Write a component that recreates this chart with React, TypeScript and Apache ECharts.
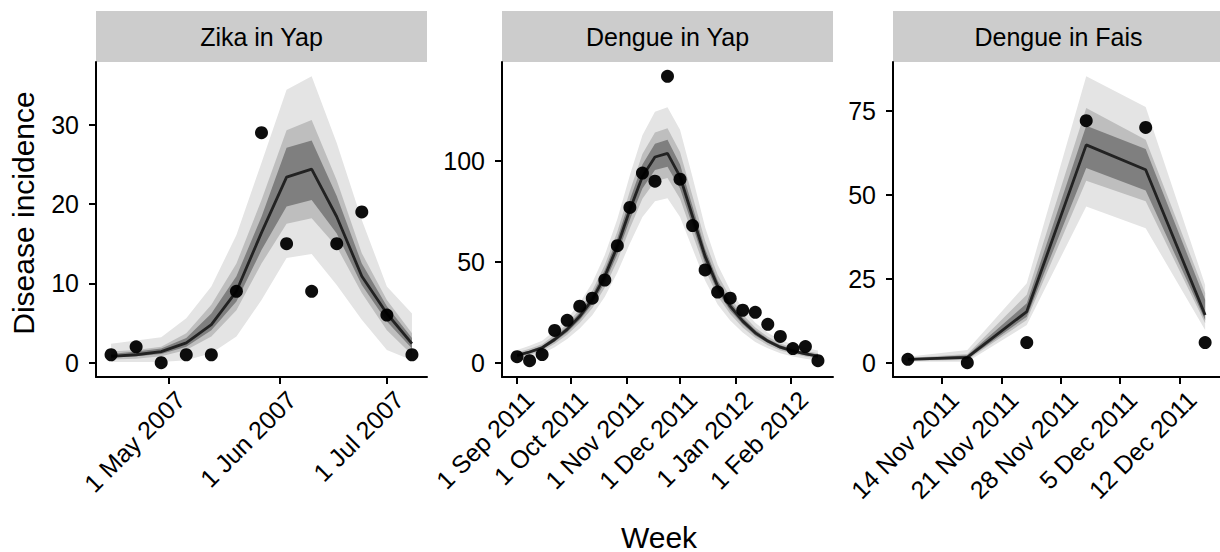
import React, { useEffect, useRef } from "react";
import * as echarts from "echarts";

// ---------- data ----------
const zikaWeeks = ["2007-04-15", "2007-04-22", "2007-04-29", "2007-05-06", "2007-05-13", "2007-05-20", "2007-05-27", "2007-06-03", "2007-06-10", "2007-06-17", "2007-06-24", "2007-07-01", "2007-07-08"];
const zikaCases = [1, 2, 0, 1, 1, 9, 29, 15, 9, 15, 19, 6, 1];
const zikaMedian = [0.8, 1.0, 1.4, 2.5, 4.8, 9.0, 16.4, 23.4, 24.4, 18.4, 10.9, 6.2, 2.4];
const zikaOuterLo = [0.1, 0.1, 0.1, 0.3, 1.2, 3.3, 7.9, 13.2, 13.7, 9.8, 5.4, 1.6, 0.3];
const zikaOuterHi = [2.4, 2.8, 3.2, 5.6, 9.6, 16.1, 25.2, 34.4, 36.1, 27.7, 18.0, 9.6, 6.2];
const zikaMidLo = [0.4, 0.5, 0.8, 1.6, 3.3, 6.6, 12.5, 17.5, 18.2, 14.6, 8.8, 4.1, 1.0];
const zikaMidHi = [1.4, 1.6, 2.0, 3.7, 7.3, 12.5, 20.5, 29.3, 30.6, 23.0, 13.8, 7.9, 3.7];
const zikaInLo = [0.7, 0.8, 1.1, 2.0, 4.1, 7.7, 14.2, 19.7, 20.5, 16.3, 9.8, 5.2, 1.8];
const zikaInHi = [1.1, 1.4, 1.8, 3.1, 6.2, 10.9, 18.4, 27.1, 28.0, 21.0, 12.5, 7.1, 3.1];
const zikaYTicks = [0, 10, 20, 30];
const zikaXTicks = ["2007-05-01", "2007-06-01", "2007-07-01"];

const yapWeeks = ["2011-09-01", "2011-09-08", "2011-09-15", "2011-09-22", "2011-09-29", "2011-10-06", "2011-10-13", "2011-10-20", "2011-10-27", "2011-11-03", "2011-11-10", "2011-11-17", "2011-11-24", "2011-12-01", "2011-12-08", "2011-12-15", "2011-12-22", "2011-12-29", "2012-01-05", "2012-01-12", "2012-01-19", "2012-01-26", "2012-02-02", "2012-02-09", "2012-02-16"];
const yapCases = [3, 1, 4, 16, 21, 28, 32, 41, 58, 77, 94, 90, 142, 91, 68, 46, 35, 32, 26, 25, 19, 13, 7, 8, 1];
const yapMedian = [3.6, 5.3, 7.4, 11.5, 16.5, 23, 31.3, 42.8, 57.7, 75.8, 92.3, 102, 103.8, 92.3, 72.5, 52.7, 37.9, 28, 20.6, 14.8, 10.7, 7.7, 5.8, 4.4, 3.3];
const yapOuterLo = [1.4, 2.7, 4.4, 7.7, 11.7, 16.9, 23.5, 32.7, 44.7, 59.1, 72.3, 80.1, 81.5, 72.3, 56.5, 40.7, 28.8, 20.9, 15, 10.3, 7.1, 4.7, 3.1, 2.0, 1.1];
const yapOuterHi = [6.3, 8.4, 10.9, 15.8, 21.8, 29.6, 39.6, 53.4, 71.2, 93, 112.8, 124.4, 126.6, 115.5, 92, 67.2, 48.5, 36.1, 26.9, 19.8, 14.8, 11.2, 9, 7.3, 6];
const yapMidLo = [2.4, 3.9, 5.8, 9.4, 13.9, 19.7, 27, 37.3, 50.6, 66.7, 81.3, 90, 91.6, 81.3, 63.7, 46.1, 32.9, 24.1, 17.5, 12.4, 8.7, 6.1, 4.4, 3.1, 2.1];
const yapMidHi = [5, 6.9, 9.2, 13.8, 19.3, 26.5, 35.7, 48.5, 65, 85.1, 103.5, 114.2, 116.2, 104.5, 82.5, 60.5, 43.6, 32.4, 23.9, 17.4, 12.9, 9.5, 7.4, 5.9, 4.7];
const yapInLo = [3, 4.6, 6.6, 10.4, 15.1, 21.2, 29, 39.8, 53.8, 70.9, 86.4, 95.5, 97.2, 86.4, 67.8, 49.1, 35.2, 25.9, 19, 13.5, 9.7, 6.8, 5, 3.7, 2.7];
const yapInHi = [4.3, 6.1, 8.3, 12.7, 18, 24.9, 33.7, 45.9, 61.7, 80.8, 98.3, 108.6, 110.5, 98.3, 77.4, 56.4, 40.7, 30.2, 22.3, 16.2, 11.8, 8.7, 6.6, 5.2, 4];
const yapYTicks = [0, 50, 100];
const yapXTicks = ["2011-09-01", "2011-10-01", "2011-11-01", "2011-12-01", "2012-01-01", "2012-02-01"];

const faisWeeks = ["2011-11-10", "2011-11-17", "2011-11-24", "2011-12-01", "2011-12-08", "2011-12-15"];
const faisCases = [1, 0, 6, 72, 70, 6];
const faisMedian = [1.0, 1.6, 15.2, 64.8, 57.4, 14.2];
const faisOuterLo = [0.3, 0.3, 11.2, 46.5, 40.0, 9.7];
const faisOuterHi = [1.8, 3.8, 23.6, 85.2, 76.1, 23.1];
const faisMidLo = [0.6, 0.8, 12.7, 54.1, 48.0, 11.7];
const faisMidHi = [1.4, 2.6, 20.2, 75.8, 66.3, 20.7];
const faisInLo = [0.8, 1.1, 13.7, 57.9, 51.2, 12.7];
const faisInHi = [1.2, 2.2, 17.7, 70.5, 63.6, 18.7];
const faisYTicks = [0, 25, 50, 75];
const faisXTicks = ["2011-11-14", "2011-11-21", "2011-11-28", "2011-12-05", "2011-12-12"];

const panelTitles = ["Zika in Yap", "Dengue in Yap", "Dengue in Fais"];
const xTitle = "Week";
const yTitle = "Disease incidence";
const monthNames = ["Jan", "Feb", "Mar", "Apr", "May", "Jun", "Jul", "Aug", "Sep", "Oct", "Nov", "Dec"];

// ---------- helpers ----------
const ts = (s: string) => {
  const [y, m, d] = s.split("-").map(Number);
  return Date.UTC(y, m - 1, d);
};
const fmtDate = (v: number) => {
  const d = new Date(Math.round(v));
  return d.getUTCDate() + " " + monthNames[d.getUTCMonth()] + " " + d.getUTCFullYear();
};

const FONT = "Liberation Sans";
const bandColors = ["#e4e4e4", "#bebebe", "#7f7f7f"];
const panelLefts = [96, 502, 893];
const panelWidth = 331;
const gridTop = 62;
const gridHeight = 315;

const panels = [
  { weeks: zikaWeeks, cases: zikaCases, med: zikaMedian, bands: [[zikaOuterLo, zikaOuterHi], [zikaMidLo, zikaMidHi], [zikaInLo, zikaInHi]], yTicks: zikaYTicks, xTicks: zikaXTicks },
  { weeks: yapWeeks, cases: yapCases, med: yapMedian, bands: [[yapOuterLo, yapOuterHi], [yapMidLo, yapMidHi], [yapInLo, yapInHi]], yTicks: yapYTicks, xTicks: yapXTicks },
  { weeks: faisWeeks, cases: faisCases, med: faisMedian, bands: [[faisOuterLo, faisOuterHi], [faisMidLo, faisMidHi], [faisInLo, faisInHi]], yTicks: faisYTicks, xTicks: faisXTicks },
];

function buildOption() {
  const grid: any[] = [];
  const xAxis: any[] = [];
  const yAxis: any[] = [];
  const series: any[] = [];
  const graphic: any[] = [];

  panels.forEach((p, i) => {
    grid.push({ left: panelLefts[i], top: gridTop, width: panelWidth, height: gridHeight, containLabel: false });

    const t0 = ts(p.weeks[0]);
    const t1 = ts(p.weeks[p.weeks.length - 1]);
    const span = t1 - t0;
    const yHi = Math.max(...p.bands[0][1], ...p.cases);
    const yLo = 0;
    const yr = yHi - yLo;
    const xTickVals = p.xTicks.map(ts);

    xAxis.push({
      type: "value",
      gridIndex: i,
      min: t0 - 0.05 * span,
      max: t1 + 0.05 * span,
      axisLine: { show: true, onZero: false, lineStyle: { color: "#000", width: 2 } },
      axisTick: { show: true, length: 7, lineStyle: { color: "#000", width: 2 }, customValues: xTickVals },
      axisLabel: {
        customValues: xTickVals,
        rotate: 45,
        formatter: (v: number) => fmtDate(v),
        color: "#000",
        fontSize: 25,
        fontFamily: FONT,
        margin: 13,
        verticalAlign: "top",
        padding: [0, -5, 0, 0],
        hideOverlap: false,
      },
      splitLine: { show: false },
    });
    yAxis.push({
      type: "value",
      gridIndex: i,
      min: yLo - 0.05 * yr,
      max: yHi + 0.05 * yr,
      axisLine: { show: true, onZero: false, lineStyle: { color: "#000", width: 2 } },
      axisTick: { show: true, length: 7, lineStyle: { color: "#000", width: 2 }, customValues: p.yTicks },
      axisLabel: { customValues: p.yTicks, color: "#000", fontSize: 25, fontFamily: FONT, margin: 17 },
      splitLine: { show: false },
    });

    // ribbons: value column first so that stacking acts on the y dimension
    p.bands.forEach(([lo, hi], b) => {
      const stack = "p" + i + "b" + b;
      series.push({
        type: "line", xAxisIndex: i, yAxisIndex: i, stack, silent: true, symbol: "none", z: 1 + b,
        encode: { x: 1, y: 0 },
        lineStyle: { opacity: 0, width: 0 },
        data: p.weeks.map((d, k) => [lo[k], ts(d)]),
      });
      series.push({
        type: "line", xAxisIndex: i, yAxisIndex: i, stack, silent: true, symbol: "none", z: 1 + b,
        encode: { x: 1, y: 0 },
        lineStyle: { opacity: 0, width: 0 },
        areaStyle: { color: bandColors[b], opacity: 1 },
        data: p.weeks.map((d, k) => [hi[k] - lo[k], ts(d)]),
      });
    });
    series.push({
      type: "line", xAxisIndex: i, yAxisIndex: i, symbol: "none", z: 10, silent: true,
      lineStyle: { color: "#222", width: 2.8 },
      data: p.weeks.map((d, k) => [ts(d), p.med[k]]),
    });
    series.push({
      type: "scatter", xAxisIndex: i, yAxisIndex: i, symbolSize: 13, z: 11, silent: true,
      itemStyle: { color: "#000", opacity: 0.95 },
      data: p.weeks.map((d, k) => [ts(d), p.cases[k]]),
    });

    graphic.push({
      type: "rect", left: panelLefts[i], top: 11, silent: true,
      shape: { width: panelWidth, height: 51 },
      style: { fill: "#cccccc" },
    });
    graphic.push({
      type: "text", x: panelLefts[i] + panelWidth / 2, y: 37, silent: true,
      style: { text: panelTitles[i], fill: "#000", font: "25px " + FONT, textAlign: "center", textVerticalAlign: "middle" },
    });
  });

  graphic.push({
    type: "text", x: 659, y: 537, silent: true,
    style: { text: xTitle, fill: "#000", font: "30px " + FONT, textAlign: "center", textVerticalAlign: "middle" },
  });
  graphic.push({
    type: "text", x: 23, y: 213, rotation: Math.PI / 2, silent: true,
    style: { text: yTitle, fill: "#000", font: "30px " + FONT, textAlign: "center", textVerticalAlign: "middle" },
  });

  return {
    animation: false,
    backgroundColor: "#fff",
    textStyle: { fontFamily: FONT },
    grid, xAxis, yAxis, series, graphic,
  };
}

export default function App() {
  const ref = useRef<HTMLDivElement>(null);
  useEffect(() => {
    if (!ref.current) return;
    const chart = echarts.init(ref.current, null, { renderer: "svg" });
    chart.setOption(buildOption() as any);
    return () => chart.dispose();
  }, []);
  return <div ref={ref} style={{ position: "fixed", left: 0, top: 0, width: 1220, height: 552 }} />;
}
